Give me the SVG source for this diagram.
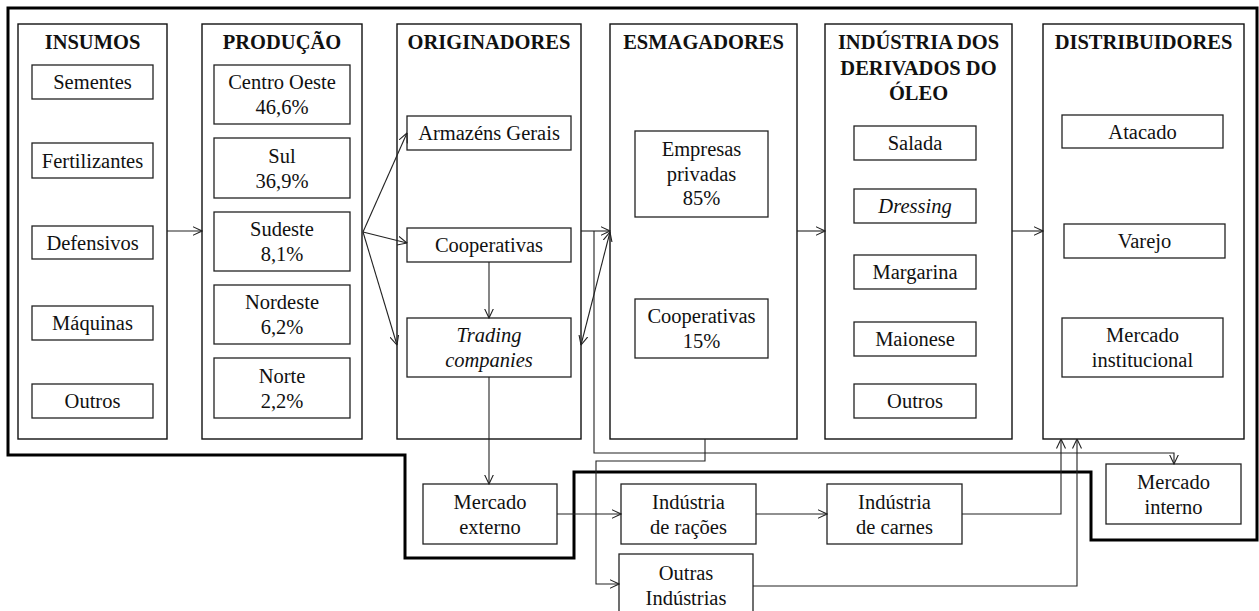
<svg xmlns="http://www.w3.org/2000/svg" width="1259" height="611" viewBox="0 0 1259 611">
<style>
.col{fill:#fff;stroke:#111;stroke-width:1.4}
.box{fill:#fff;stroke:#222;stroke-width:1.3}
.t{font-family:"Liberation Serif","Times New Roman","DejaVu Serif",serif;font-size:20.5px;font-weight:400;font-style:normal;fill:#111;text-anchor:middle}
.h{font-weight:700}
.i{font-style:italic}
.c{fill:none;stroke:#222;stroke-width:1.1}
.ca{fill:none;stroke:#222;stroke-width:1.1;marker-end:url(#ah)}
.thick{fill:none;stroke:#000;stroke-width:3}
</style>
<defs>
<marker id="ah" viewBox="0 0 10 10" refX="9.5" refY="5" markerWidth="10" markerHeight="10" markerUnits="userSpaceOnUse" orient="auto">
<path d="M0,0.5 L9.5,5 L0,9.5" fill="none" stroke="#222" stroke-width="1.1"/>
</marker>
<marker id="as" viewBox="0 0 10 10" refX="9.5" refY="5" markerWidth="10" markerHeight="10" markerUnits="userSpaceOnUse" orient="auto-start-reverse">
<path d="M0,0.5 L9.5,5 L0,9.5" fill="none" stroke="#222" stroke-width="1.1"/>
</marker>
</defs>
<rect width="1259" height="611" fill="#fff"/>
<path class="thick" d="M8,8 H1257 V540 H1091 V472 H574 V558 H405 V455 H8 Z"/>

<g id="insumos">
<rect class="col" x="18" y="24" width="149" height="415"/>
<text class="t h" x="92.5" y="49">INSUMOS</text>
<rect class="box" x="32" y="65" width="121" height="34"/><text class="t" x="92.5" y="89">Sementes</text>
<rect class="box" x="32" y="143" width="121" height="35"/><text class="t" x="92.5" y="167.5">Fertilizantes</text>
<rect class="box" x="32" y="226" width="121" height="33"/><text class="t" x="92.5" y="249.5">Defensivos</text>
<rect class="box" x="32" y="306" width="121" height="34"/><text class="t" x="92.5" y="330">Máquinas</text>
<rect class="box" x="32" y="384" width="121" height="34"/><text class="t" x="92.5" y="408">Outros</text>
</g>

<g id="producao">
<rect class="col" x="202" y="24" width="160" height="415"/>
<text class="t h" x="282" y="49">PRODUÇÃO</text>
<rect class="box" x="214" y="65" width="136" height="59"/><text class="t" x="282" y="89">Centro Oeste</text><text class="t" x="282" y="114">46,6%</text>
<rect class="box" x="214" y="138" width="136" height="60"/><text class="t" x="282" y="162.5">Sul</text><text class="t" x="282" y="187.5">36,9%</text>
<rect class="box" x="214" y="212" width="136" height="59"/><text class="t" x="282" y="236">Sudeste</text><text class="t" x="282" y="261">8,1%</text>
<rect class="box" x="214" y="285" width="136" height="59"/><text class="t" x="282" y="309">Nordeste</text><text class="t" x="282" y="334">6,2%</text>
<rect class="box" x="214" y="358" width="136" height="60"/><text class="t" x="282" y="382.5">Norte</text><text class="t" x="282" y="407.5">2,2%</text>
</g>

<g id="originadores">
<rect class="col" x="397" y="24" width="184" height="415"/>
<text class="t h" x="489" y="49">ORIGINADORES</text>
<rect class="box" x="407" y="116" width="164" height="34"/><text class="t" x="489" y="140">Armazéns Gerais</text>
<rect class="box" x="407" y="228" width="164" height="34"/><text class="t" x="489" y="252">Cooperativas</text>
<rect class="box" x="407" y="318" width="164" height="59"/><text class="t i" x="489" y="342">Trading</text><text class="t i" x="489" y="367">companies</text>
</g>

<g id="esmagadores">
<rect class="col" x="610" y="24" width="187" height="415"/>
<text class="t h" x="703.5" y="49">ESMAGADORES</text>
<rect class="box" x="635" y="131" width="133" height="86"/><text class="t" x="701.5" y="156">Empresas</text><text class="t" x="701.5" y="180.5">privadas</text><text class="t" x="701.5" y="205">85%</text>
<rect class="box" x="635" y="299" width="133" height="59"/><text class="t" x="701.5" y="323">Cooperativas</text><text class="t" x="701.5" y="348">15%</text>
</g>

<g id="industria">
<rect class="col" x="825" y="24" width="187" height="415"/>
<text class="t h" x="918.5" y="49">INDÚSTRIA DOS</text>
<text class="t h" x="918.5" y="74.5">DERIVADOS DO</text>
<text class="t h" x="918.5" y="100">ÓLEO</text>
<rect class="box" x="854" y="126" width="122" height="34"/><text class="t" x="915" y="150">Salada</text>
<rect class="box" x="854" y="189" width="122" height="34"/><text class="t i" x="915" y="213">Dressing</text>
<rect class="box" x="854" y="255" width="122" height="34"/><text class="t" x="915" y="279">Margarina</text>
<rect class="box" x="854" y="322" width="122" height="34"/><text class="t" x="915" y="346">Maionese</text>
<rect class="box" x="854" y="384" width="122" height="34"/><text class="t" x="915" y="408">Outros</text>
</g>

<g id="distribuidores">
<rect class="col" x="1043" y="24" width="201" height="415"/>
<text class="t h" x="1143.5" y="49">DISTRIBUIDORES</text>
<rect class="box" x="1062" y="115" width="161" height="33"/><text class="t" x="1142.5" y="138.5">Atacado</text>
<rect class="box" x="1064" y="224" width="161" height="34"/><text class="t" x="1144.5" y="248">Varejo</text>
<rect class="box" x="1062" y="318" width="161" height="59"/><text class="t" x="1142.5" y="342">Mercado</text><text class="t" x="1142.5" y="367">institucional</text>
</g>

<g id="mercado-externo">
<rect class="box" x="423" y="484" width="134" height="60"/><text class="t" x="490" y="508.5">Mercado</text><text class="t" x="490" y="533.5">externo</text>
</g>
<g id="industria-racoes">
<rect class="box" x="621" y="484" width="135" height="60"/><text class="t" x="688.5" y="508.5">Indústria</text><text class="t" x="688.5" y="533.5">de rações</text>
</g>
<g id="industria-carnes">
<rect class="box" x="827" y="484" width="135" height="60"/><text class="t" x="894.5" y="508.5">Indústria</text><text class="t" x="894.5" y="533.5">de carnes</text>
</g>
<g id="outras-industrias">
<rect class="box" x="619" y="554" width="134" height="62"/><text class="t" x="686" y="580">Outras</text><text class="t" x="686" y="605">Indústrias</text>
</g>
<g id="mercado-interno">
<rect class="box" x="1106" y="464" width="135" height="60"/><text class="t" x="1173.5" y="488.5">Mercado</text><text class="t" x="1173.5" y="513.5">interno</text>
</g>

<g id="connectors">
<line class="ca" x1="167" y1="231" x2="202" y2="231"/>
<line class="ca" x1="363" y1="232" x2="407" y2="133"/>
<line class="ca" x1="363" y1="232" x2="407" y2="243"/>
<line class="ca" x1="363" y1="232" x2="397" y2="345"/>
<line class="ca" x1="489" y1="262" x2="489" y2="318"/>
<line class="ca" x1="489" y1="377" x2="489" y2="484"/>
<line class="ca" x1="581" y1="231" x2="610" y2="231"/>
<line class="c" x1="610" y1="232" x2="581" y2="345" marker-start="url(#as)" marker-end="url(#ah)"/>
<path class="ca" d="M594,231 V453 H1174 V464"/>
<line class="ca" x1="797" y1="231" x2="825" y2="231"/>
<line class="ca" x1="1012" y1="231" x2="1043" y2="231"/>
<path class="ca" d="M705,439 V461 H596 V584 H619"/>
<line class="ca" x1="557" y1="514" x2="621" y2="514"/>
<line class="ca" x1="756" y1="514" x2="827" y2="514"/>
<path class="ca" d="M962,514 H1061 V439"/>
<path class="ca" d="M753,586 H1077 V439"/>
</g>
</svg>
